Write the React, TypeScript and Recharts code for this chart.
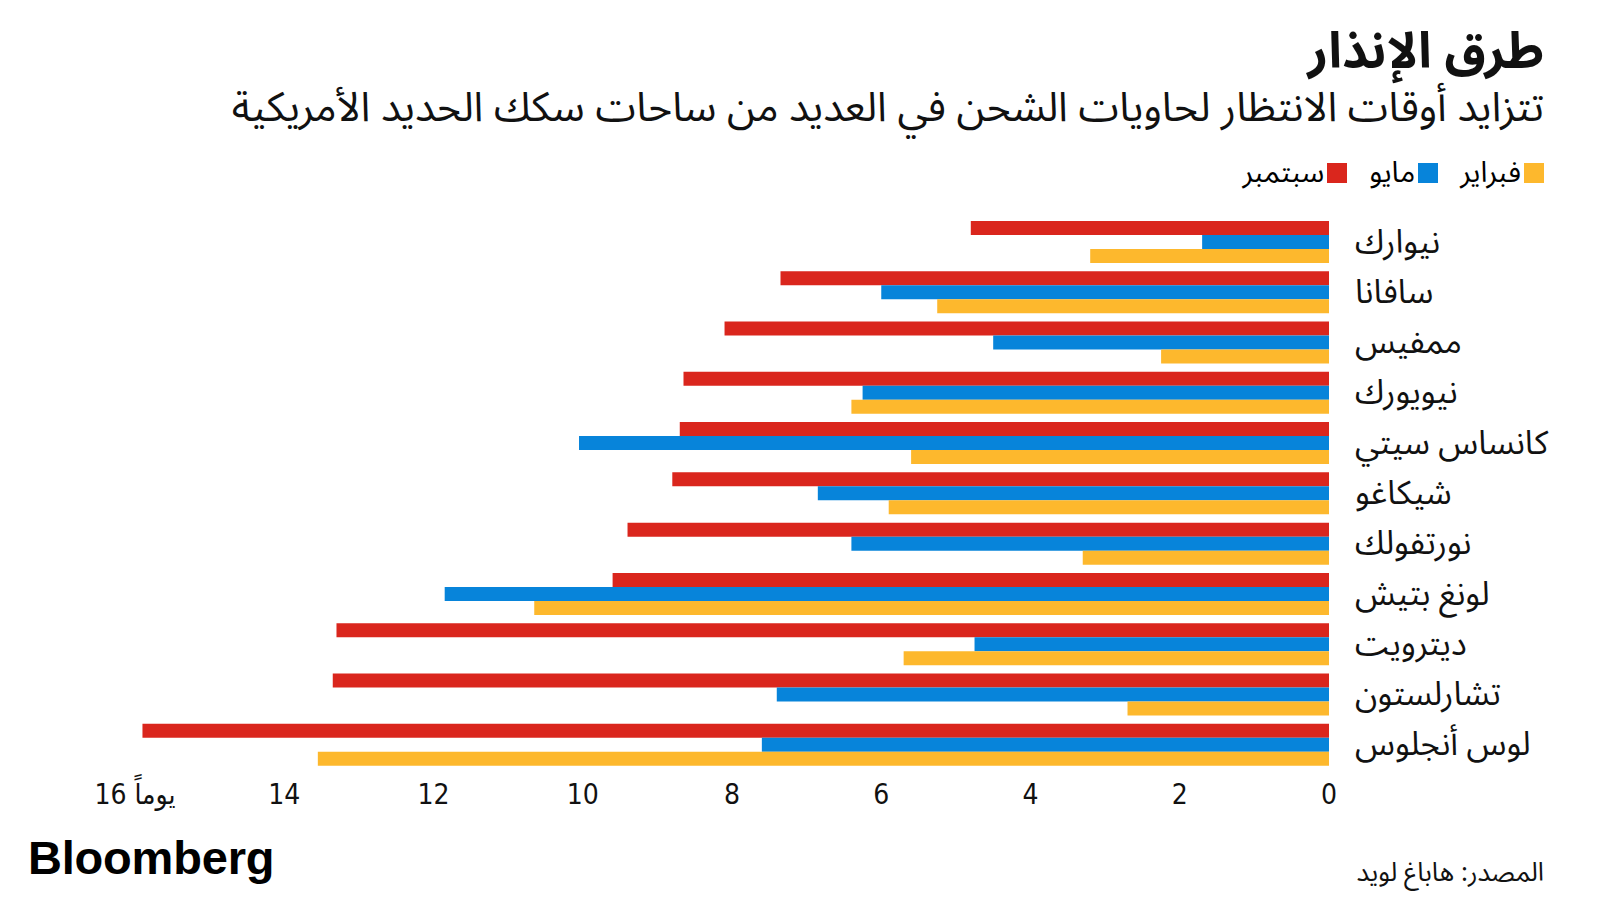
import { BarChart, Bar, XAxis, YAxis } from "recharts";

const cities = [
  "نيوارك",
  "سافانا",
  "ممفيس",
  "نيويورك",
  "كانساس سيتي",
  "شيكاغو",
  "نورتفولك",
  "لونغ بتيش",
  "ديترويت",
  "تشارلستون",
  "لوس أنجلوس",
];
const september = [4.8, 7.35, 8.1, 8.65, 8.7, 8.8, 9.4, 9.6, 13.3, 13.35, 15.9];
const may = [1.7, 6.0, 4.5, 6.25, 10.05, 6.85, 6.4, 11.85, 4.75, 7.4, 7.6];
const february = [3.2, 5.25, 2.25, 6.4, 5.6, 5.9, 3.3, 10.65, 5.7, 2.7, 13.55];
const xTicks = [0, 2, 4, 6, 8, 10, 12, 14, 16];

const RED = "#da261d";
const BLUE = "#0784da";
const YELLOW = "#fdb82d";
const AR_FONT = '"Noto Sans Arabic", "DejaVu Sans", sans-serif';
const NUM_FONT = '"Liberation Sans Narrow", "DejaVu Sans Condensed", "Roboto", sans-serif';

const data = cities.map((c, i) => ({
  city: c,
  sep: september[i],
  may: may[i],
  feb: february[i],
}));

function CityTick({ x, y, payload }: any) {
  return (
    <text x={x + 18} y={y} dominantBaseline="central" textAnchor="start" fontSize={33} fontFamily={AR_FONT} fill="#111">
      {payload.value}
    </text>
  );
}

function DayTick({ x, y, payload }: any) {
  const label = payload.value === 16 ? "16 يوماً" : String(payload.value);
  return (
    <text x={x} y={y + 16} dominantBaseline="central" textAnchor="middle" fontSize={28} fontFamily={NUM_FONT} fill="#111">
      {label}
    </text>
  );
}

function LegendItem({ color, label }: { color: string; label: string }) {
  return (
    <div style={{ display: "flex", alignItems: "center", gap: 3, direction: "rtl" }}>
      <span style={{ width: 20, height: 20, background: color, display: "inline-block" }} />
      <span style={{ fontSize: 29, fontFamily: AR_FONT, lineHeight: 1 }}>{label}</span>
    </div>
  );
}

export default function App() {
  return (
    <div style={{ position: "absolute", left: 0, top: 0, width: 1600, height: 900, background: "#fff", overflow: "hidden" }}>
      <div
        style={{
          position: "absolute",
          right: 56,
          top: 22,
          fontSize: 50,
          fontWeight: 700,
          fontFamily: AR_FONT,
          direction: "rtl",
          color: "#111",
          lineHeight: 1.2,
        }}
      >
        طرق الإنذار
      </div>
      <div
        style={{
          position: "absolute",
          right: 56,
          top: 84,
          fontSize: 41,
          fontFamily: AR_FONT,
          direction: "rtl",
          color: "#111",
          lineHeight: 1.2,
          whiteSpace: "nowrap",
        }}
      >
        تتزايد أوقات الانتظار لحاويات الشحن في العديد من ساحات سكك الحديد الأمريكية
      </div>
      <div style={{ position: "absolute", right: 56, top: 158, display: "flex", gap: 22, direction: "rtl" }}>
        <LegendItem color={YELLOW} label="فبراير" />
        <LegendItem color={BLUE} label="مايو" />
        <LegendItem color={RED} label="سبتمبر" />
      </div>

      <div style={{ position: "absolute", left: 0, top: 0 }}>
        <BarChart
          width={1600}
          height={900}
          data={data}
          layout="vertical"
          margin={{ top: 217, right: 21, bottom: 80, left: 135 }}
          barGap={0}
          barSize={14}
        >
          <XAxis
            type="number"
            domain={[0, 16]}
            ticks={xTicks}
            reversed
            axisLine={false}
            tickLine={false}
            height={50}
            tick={<DayTick />}
            interval={0}
          />
          <YAxis
            type="category"
            dataKey="city"
            orientation="right"
            width={250}
            axisLine={false}
            tickLine={false}
            tick={<CityTick />}
            interval={0}
          />
          <Bar dataKey="sep" fill={RED} isAnimationActive={false} />
          <Bar dataKey="may" fill={BLUE} isAnimationActive={false} />
          <Bar dataKey="feb" fill={YELLOW} isAnimationActive={false} />
        </BarChart>
      </div>

      <div
        style={{
          position: "absolute",
          left: 28,
          top: 834,
          fontSize: 47,
          fontWeight: 700,
          fontFamily: '"Liberation Sans", Arial, sans-serif',
          letterSpacing: -0.2,
          color: "#000",
          lineHeight: 1,
        }}
      >
        Bloomberg
      </div>
      <div
        style={{
          position: "absolute",
          right: 56,
          top: 857,
          fontSize: 26,
          fontFamily: AR_FONT,
          direction: "rtl",
          color: "#111",
          lineHeight: 1.2,
        }}
      >
        المصدر: هاباغ لويد
      </div>
    </div>
  );
}
